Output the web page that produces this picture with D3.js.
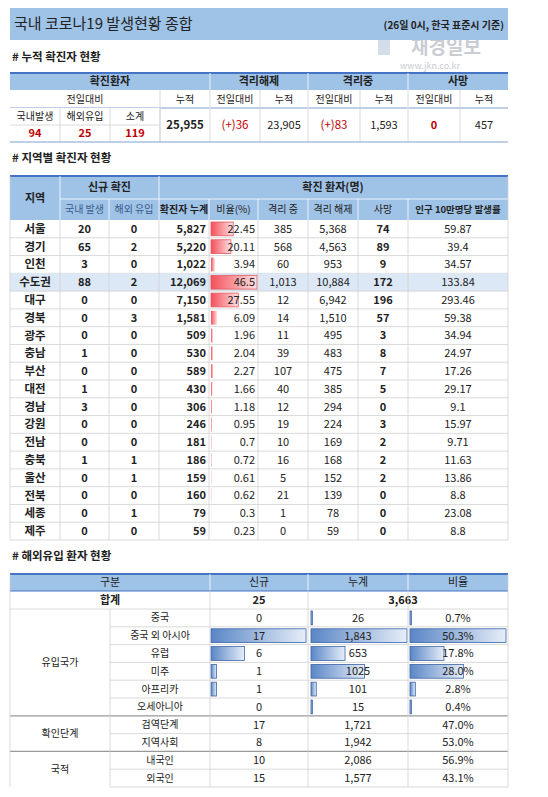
<!DOCTYPE html>
<html><head><meta charset="utf-8">
<script src="https://cdn.jsdelivr.net/npm/d3@7"></script>
<style>
body{margin:0;background:#fff;}
text{font-family:"Noto Sans CJK KR","Noto Sans",sans-serif;}
</style></head>
<body><svg id="c" width="548" height="797"></svg>
<script>
// summary table
const sumLabels = ["국내발생","해외유입","소계"];
const sumNew = [94, 25, 119];
const sumTotal = "25,955";
const releaseNew = "(+)36", releaseTotal = "23,905";
const isoNew = "(+)83", isoTotal = "1,593";
const deathNew = "0", deathTotal = "457";

// regional table
const regions = ["서울","경기","인천","수도권","대구","경북","광주","충남","부산","대전","경남","강원","전남","충북","울산","전북","세종","제주"];
const domesticNew = [20,65,3,88,0,0,0,1,0,1,3,0,0,1,0,0,0,0];
const importNew = [0,2,0,2,0,3,0,0,0,0,0,0,0,1,1,0,1,0];
const confirmed = [5827,5220,1022,12069,7150,1581,509,530,589,430,306,246,181,186,159,160,79,59];
const ratio = [22.45,20.11,3.94,46.5,27.55,6.09,1.96,2.04,2.27,1.66,1.18,0.95,0.7,0.72,0.61,0.62,0.3,0.23];
const isolated = [385,568,60,1013,12,14,11,39,107,40,12,19,10,16,5,21,1,0];
const released = [5368,4563,953,10884,6942,1510,495,483,475,385,294,224,169,168,152,139,78,59];
const deaths = [74,89,9,172,196,57,3,8,7,5,0,3,2,2,2,0,0,0];
const per100k = ["59.87","39.4","34.57","133.84","293.46","59.38","34.94","24.97","17.26","29.17","9.1","15.97","9.71","11.63","13.86","8.8","23.08","8.8"];

// imported cases table
const impGroups = [["유입국가",6],["확인단계",2],["국적",2]];
const impCats = ["중국","중국 외 아시아","유럽","미주","아프리카","오세아니아","검역단계","지역사회","내국인","외국인"];
const impNew = [0,17,6,1,1,0,17,8,10,15];
const impTotal = [26,1843,653,1025,101,15,1721,1942,2086,1577];
const impTotalLbl = ["26","1,843","653","1025","101","15","1,721","1,942","2,086","1,577"];
const impRatio = [0.7,50.3,17.8,28.0,2.8,0.4,47.0,53.0,56.9,43.1];

const svg = d3.select("#c");
const HEAD = "#9fc2e7", LINE = "#d0d0d0", BLUE = "#4472c4";
const fmt = d3.format(",");

function txt(x,y,s,o={}){
  return svg.append("text").attr("x",x).attr("y",y).attr("dy","0.35em")
    .attr("text-anchor",o.a||"middle").attr("font-size",o.fs||11)
    .attr("font-weight",o.b?"bold":"normal").attr("fill",o.c||"#222").text(s);
}
function rect(x,y,w,h,fill,stroke){
  return svg.append("rect").attr("x",x).attr("y",y).attr("width",w).attr("height",h)
    .attr("fill",fill||"none").attr("stroke",stroke||"none").attr("stroke-width",0.8);
}
function hline(x1,x2,y,c,w){svg.append("line").attr("x1",x1).attr("x2",x2).attr("y1",y).attr("y2",y).attr("stroke",c||LINE).attr("stroke-width",w||0.8);}
function vline(x,y1,y2,c){svg.append("line").attr("x1",x).attr("x2",x).attr("y1",y1).attr("y2",y2).attr("stroke",c||LINE).attr("stroke-width",0.8);}

// gradients
const defs = svg.append("defs");
const gR = defs.append("linearGradient").attr("id","gR");
gR.append("stop").attr("offset","0").attr("stop-color","#f4505a");
gR.append("stop").attr("offset","1").attr("stop-color","#fde0e2");
const gB = defs.append("linearGradient").attr("id","gB");
gB.append("stop").attr("offset","0").attr("stop-color","#5a86c6");
gB.append("stop").attr("offset","1").attr("stop-color","#e6eef8");

// watermark (under the band)
rect(378,40,12,15,"#d3deea");
txt(446,47,"재경일보",{fs:19,b:true,c:"#c9cdd3"});
txt(430,65.5,"www.jkn.co.kr",{fs:9,c:"#c8ccd2"});

// title band
rect(10,8,498,32,"#9fc2e7");
txt(14,24,"국내 코로나19 발생현황 종합",{a:"start",fs:15});
txt(504,25,"(26일 0시, 한국 표준시 기준)",{a:"end",fs:10,b:true});

// section 1
txt(12,57,"# 누적 확진자 현황",{a:"start",fs:11.5,b:true});
const t1 = 73;
rect(10,t1,498,17,HEAD);
hline(10,508,t1,BLUE,2);
[["확진환자",10,210],["격리해제",210,308],["격리중",308,408],["사망",408,508]].forEach(d=>txt((d[1]+d[2])/2,t1+8.5,d[0],{b:true}));
const r2 = t1+17;
[["전일대비",10,160],["누적",160,210],["전일대비",210,260],["누적",260,308],["전일대비",308,360],["누적",360,408],["전일대비",408,460],["누적",460,508]]
  .forEach(d=>txt((d[1]+d[2])/2,r2+9,d[0],{fs:10}));
const r3 = r2+18;
hline(10,508,r3,"#7f9fcf",1.2);
const sx = d3.scaleBand().domain(sumLabels).range([10,160]);
sumLabels.forEach((l,i)=>{
  rect(sx(l),r3,sx.bandwidth(),17,"#fff");
  txt(sx(l)+sx.bandwidth()/2,r3+8.5,l,{fs:10});
  txt(sx(l)+sx.bandwidth()/2,r3+25,sumNew[i],{b:true,c:"#c00000"});
});
sumLabels.forEach(l=>vline(sx(l)+sx.bandwidth(),r3,r3+34));
hline(10,160,r3+17);
txt(185,r3+17,sumTotal,{b:true,fs:11.5});
txt(235,r3+17,releaseNew,{c:"#c00000",fs:11.5});
txt(284,r3+17,releaseTotal);
txt(334,r3+17,isoNew,{c:"#c00000",fs:11.5});
txt(384,r3+17,isoTotal);
txt(434,r3+17,deathNew,{c:"#c00000",b:true});
txt(484,r3+17,deathTotal);
[210,308,408].forEach(x=>vline(x,t1,r3+34,"#ffffff"));
[160,210,260,308,360,408,460].forEach(x=>vline(x,r2,r3+34));
hline(10,508,r3+34,"#7f9fcf",1.2);

// section 2
txt(12,158,"# 지역별 확진자 현황",{a:"start",fs:11.5,b:true});
const t2 = 176, h2a = 23, h2b = 21;
const cols2 = [10,60,109,159,209,258,308,358,408,508];
rect(10,t2,498,h2a+h2b,HEAD);
hline(10,508,t2,BLUE,2);
txt(35,t2+22,"지역",{b:true});
txt(109.5,t2+11,"신규 확진",{b:true});
txt(333,t2+11,"확진 환자(명)",{b:true});
const sub2 = ["국내 발생","해외 유입","확진자 누계","비율(%)","격리 중","격리 해제","사망","인구 10만명당 발생률"];
sub2.forEach((s,i)=>txt((cols2[i+1]+cols2[i+2])/2,t2+h2a+10.5,s,{fs:i==7?9.5:10,b:i==2||i==7,c:i<2?"#3a5a8a":"#222"}));
hline(60,508,t2+h2a,"#fff");
const y2 = d3.scaleBand().domain(regions).range([t2+h2a+h2b,540]);
const xr = d3.scaleLinear().domain([0,46.5]).range([0,46]);
regions.forEach((r,i)=>{
  const y = y2(r), bh = y2.bandwidth(), cy = y+bh/2;
  if(r==="수도권") rect(10,y,498,bh,"#dce8f5");
  rect(cols2[4]+2,y+2,xr(ratio[i]),bh-4,"url(#gR)",ratio[i]>20?"#e05a62":"none");
  txt(35,cy,r,{b:true,fs:11.5});
  txt(84.5,cy,domesticNew[i],{b:true});
  txt(134,cy,importNew[i],{b:true});
  txt(cols2[4]-3,cy,fmt(confirmed[i]),{a:"end",b:true});
  txt(cols2[5]-3,cy,ratio[i],{a:"end"});
  txt(283,cy,fmt(isolated[i]));
  txt(333,cy,fmt(released[i]));
  txt(383,cy,deaths[i],{b:true});
  txt(458,cy,per100k[i]);
  hline(10,508,y+bh);
});
cols2.slice(1,-1).forEach(x=>vline(x,t2+h2a+h2b,540));
[60,109,159,209,258,308,358,408].forEach(x=>vline(x,x===60||x===159?t2:t2+h2a,t2+h2a+h2b,"#fff"));
vline(10,t2,540); vline(508,t2,540);

// section 3
txt(12,556,"# 해외유입 환자 현황",{a:"start",fs:11.5,b:true});
const t3 = 574;
rect(10,t3,498,17,HEAD);
hline(10,508,t3,BLUE,2);
[["구분",10,210],["신규",210,308],["누계",308,408],["비율",408,508]].forEach(d=>txt((d[1]+d[2])/2,t3+8.5,d[0]));
[210,308,408].forEach(x=>vline(x,t3,t3+17,"#fff"));
hline(10,508,t3+17,BLUE,1);
txt(110,t3+26,"합계",{b:true});
txt(259,t3+26,"25",{b:true});
txt(403,t3+26,"3,663",{b:true});
const rs = t3+35;
hline(10,508,rs);
const y3 = d3.scaleBand().domain(impCats).range([rs,787]);
const xn = d3.scaleLinear().domain([0,17]).range([0,95]);
const xt = d3.scaleLinear().domain([0,1843]).range([0,96]);
const xp = d3.scaleLinear().domain([0,50.3]).range([0,96]);
impCats.forEach((c,i)=>{
  const y = y3(c), bh = y3.bandwidth(), cy = y+bh/2;
  if(i<6){
    [[211,xn(impNew[i])],[311,xt(impTotal[i])],[410,xp(impRatio[i])]].forEach(b=>{
      if(b[1]>0) rect(b[0],y+2,Math.max(b[1],1.5),bh-4,"url(#gB)","#3c64a8");
    });
  }
  txt(160,cy,c,{fs:10});
  txt(259,cy,impNew[i]);
  txt(358,cy,impTotalLbl[i]);
  txt(458,cy,impRatio[i].toFixed(1)+"%");
  const sep = i===5||i===7;
  hline(sep?10:110,508,y+bh,sep?"#999":LINE,sep?1.2:0.8);
});
let gy = rs;
impGroups.forEach(g=>{
  const h = y3.bandwidth()*g[1];
  txt(60,gy+h/2,g[0],{fs:10});
  gy += h;
});
vline(110,rs,787);
[210,308,408].forEach(x=>vline(x,t3+17,787));
vline(10,t3,787); vline(508,t3,787);
</script></body></html>
